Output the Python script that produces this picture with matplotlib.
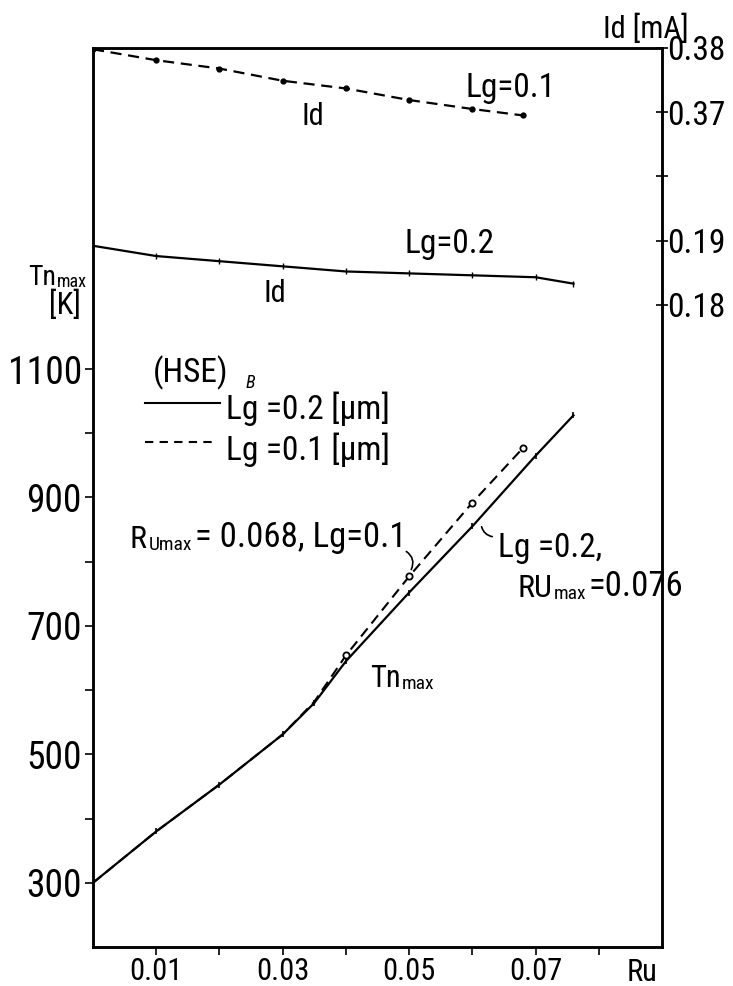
import matplotlib
matplotlib.use("Agg")
import matplotlib.pyplot as plt
from matplotlib import font_manager

# --- data ---
ru_tn_02 = [0.0, 0.01, 0.02, 0.03, 0.035, 0.04, 0.05, 0.06, 0.07, 0.076]
tn_02 = [300, 380, 453, 531, 580, 645, 752, 855, 965, 1028]

ru_tn_01 = [0.0, 0.01, 0.02, 0.03, 0.035, 0.04, 0.05, 0.06, 0.068]
tn_01 = [300, 380, 453, 531, 582, 654, 777, 892, 977]

ru_id_01 = [0.0, 0.01, 0.02, 0.03, 0.04, 0.05, 0.06, 0.068]
id_01 = [0.3798, 0.3781, 0.3768, 0.3749, 0.3737, 0.3719, 0.3705, 0.3695]

ru_id_02 = [0.0, 0.01, 0.02, 0.03, 0.04, 0.05, 0.06, 0.07, 0.076]
id_02 = [0.1892, 0.1876, 0.1868, 0.1860, 0.1852, 0.1849, 0.1846, 0.1843, 0.1833]

x_major = [0.01, 0.03, 0.05, 0.07]
x_minor = [0.02, 0.04, 0.06, 0.08]
y_major = [300, 500, 700, 900, 1100]
y_minor = [400, 600, 800, 1000]
id_ticks = ["0.18", "0.19", "", "0.37", "0.38"]

W, H = 733, 986


def pick_font():
    for name in ["Liberation Sans Narrow", "Roboto Condensed", "DejaVu Sans"]:
        try:
            font_manager.findfont(name, fallback_to_default=False)
            return name
        except Exception:
            pass
    return "DejaVu Sans"


FONT = pick_font()
plt.rcParams["font.family"] = [FONT, "DejaVu Sans"]


def px(x, y):
    # pixel position in the reference -> figure fraction
    return x / W, 1 - y / H


# broken right axis: lower block 0.18/0.19, upper block 0.37/0.38
def id_pos_low(v):
    return (v - 0.18) / 0.01


def id_pos_high(v):
    return 3 + (v - 0.37) / 0.01


fig = plt.figure(figsize=(W / 100, H / 100), dpi=100)
ax = fig.add_axes([93 / W, (H - 947) / H, (662 - 93) / W, (947 - 48) / H])
ax.set_xlim(0, 0.09)
ax.set_ylim(200, 1600)

ax.plot(ru_tn_02, tn_02, color="black", lw=1.6, marker="|", ms=5, mew=1.2)
# below Ru~0.035 the two Tn curves coincide, so mark only the upper part
ax.plot(ru_tn_01, tn_01, color="black", lw=1.5, dashes=(5, 3),
        marker="o", ms=4.5, mfc="white", mec="black", mew=1.3,
        markevery=[5, 6, 7, 8])

ax2 = ax.twinx()
ax2.set_ylim(-10, 4)
ax2.plot(ru_id_01, [id_pos_high(v) for v in id_01], color="black", lw=1.6,
         dashes=(5, 3), marker="o", ms=3.5, mfc="black")
ax2.plot(ru_id_02, [id_pos_low(v) for v in id_02], color="black", lw=1.6,
         marker="|", ms=4, mew=1.0)

for a in (ax, ax2):
    for s in a.spines.values():
        s.set_linewidth(1.8)

ax.set_xticks(x_major)
ax.set_xticks(x_minor, minor=True)
ax.set_xticklabels(["0.01", "0.03", "0.05", "0.07"], fontsize=22)
ax.set_yticks(y_major)
ax.set_yticks(y_minor, minor=True)
ax.set_yticklabels([str(v) for v in y_major], fontsize=27)
ax.tick_params(axis="both", which="both", direction="out", length=6, width=1.2)
ax.tick_params(axis="x", pad=1)
ax.tick_params(axis="y", pad=2)

ax2.set_yticks(range(5))
ax2.set_yticklabels(id_ticks, fontsize=24)
ax2.tick_params(axis="y", direction="inout", length=8, width=1.2, pad=0)


def label(x, y, s, size, sub=None, sub_size=13, after=None, after_size=None):
    """text at reference pixel (x, baseline y), with an optional small
    trailing part (like 'max') and more text after it"""
    t = fig.text(*px(x, y), s, fontsize=size)
    if sub is None:
        return t
    t2 = ax.annotate(sub, xy=(1, 0), xycoords=t, xytext=(1, 0),
                     textcoords="offset points", fontsize=sub_size,
                     va="bottom", annotation_clip=False)
    if after is not None:
        ax.annotate(after, xy=(1, 0), xycoords=t2, xytext=(2, 0),
                    textcoords="offset points", fontsize=after_size or size,
                    va="bottom", annotation_clip=False)
    return t


# labels and annotations
label(603, 38, "Id [mA]", 22)
label(627, 981, "Ru", 22)
label(28, 285, "Tn", 20, sub="max", sub_size=13)
label(49, 314, "[K]", 22)

label(302, 125, "Id", 22)
label(466, 97, "Lg=0.1", 24)
label(404, 253, "Lg=0.2", 24)
label(264, 302, "Id", 22)

label(153, 382, "(HSE)", 24)
fig.text(*px(246, 388), "B", fontsize=13, style="italic")
fig.lines.append(plt.Line2D([145 / W, 220 / W], [1 - 403 / H] * 2, color="black",
                            lw=1.5, transform=fig.transFigure))
fig.lines.append(plt.Line2D([145 / W, 217 / W], [1 - 442 / H] * 2, color="black",
                            lw=1.5, dashes=(4, 3), transform=fig.transFigure))
label(226, 419, "Lg =0.2 [μm]", 24)
label(226, 460, "Lg =0.1 [μm]", 24)

label(130, 548, "R", 23, sub="Umax", sub_size=14, after="= 0.068, Lg=0.1",
      after_size=25)
label(498, 557, "Lg =0.2,", 24)
label(517, 597, "RU", 23, sub="max", sub_size=14, after="=0.076", after_size=25)
label(370, 687, "Tn", 22, sub="max", sub_size=14)

# small hooks pointing at the curves
fig.add_artist(matplotlib.patches.FancyArrowPatch(
    px(404, 550), px(410, 572), arrowstyle="-", lw=1.2,
    connectionstyle="arc3,rad=-0.5", transform=fig.transFigure))
fig.add_artist(matplotlib.patches.FancyArrowPatch(
    px(495, 537), px(481, 524), arrowstyle="-", lw=1.2,
    connectionstyle="arc3,rad=-0.4", transform=fig.transFigure))

fig.savefig("out.png", dpi=100)
